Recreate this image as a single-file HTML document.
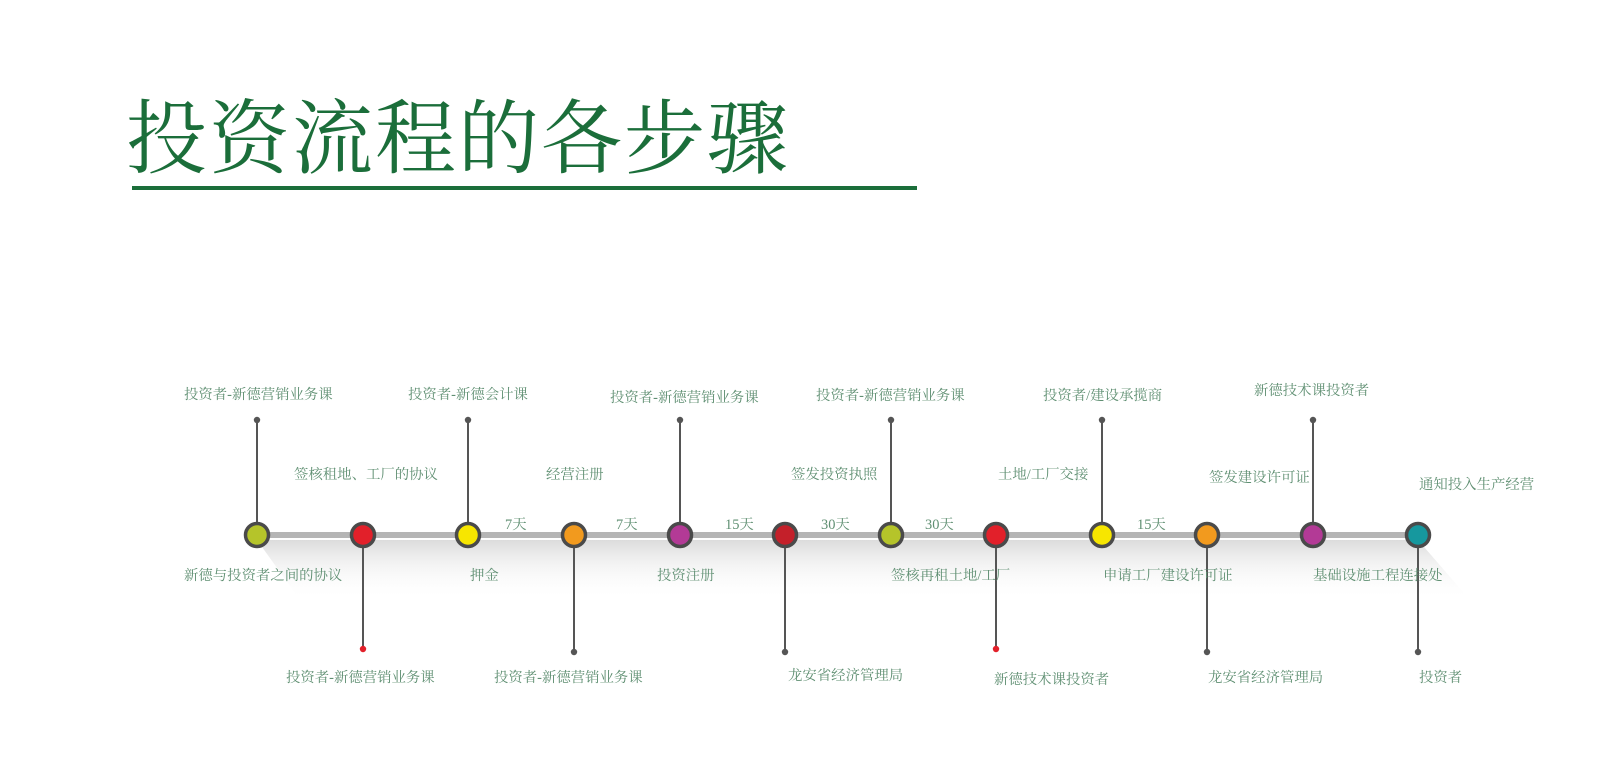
<!DOCTYPE html>
<html><head><meta charset="utf-8"><style>
html,body{margin:0;padding:0;background:#fff;}
svg{display:block}
text{font-family:"Liberation Serif","Noto Serif CJK SC",serif;fill:#5f8f72;font-size:14.4px}
.t{font-size:81px;fill:#1b6e3a;letter-spacing:2px}
</style></head><body>
<svg width="1600" height="757" viewBox="0 0 1600 757" xmlns="http://www.w3.org/2000/svg">
<defs>
<linearGradient id="sh" x1="0" y1="0" x2="0" y2="1">
<stop offset="0" stop-color="#d8d8d8" stop-opacity="0.9"/>
<stop offset="1" stop-color="#ffffff" stop-opacity="0"/>
</linearGradient>
</defs>
<text class="t" x="126" y="167">投资流程的各步骤</text>
<rect x="132" y="186" width="785" height="4" fill="#1b6e3a"/>
<polygon points="257,540 1418,540 1470,600 300,600" fill="url(#sh)"/>
<rect x="257" y="532" width="1161" height="6" fill="#b5b5b5"/>
<g stroke="#555" stroke-width="2">
<line x1="257" y1="420" x2="257" y2="534"/>
<line x1="468" y1="420" x2="468" y2="534"/>
<line x1="680" y1="420" x2="680" y2="534"/>
<line x1="891" y1="420" x2="891" y2="534"/>
<line x1="1102" y1="420" x2="1102" y2="534"/>
<line x1="1313" y1="420" x2="1313" y2="534"/>
<line x1="363" y1="534" x2="363" y2="649"/>
<line x1="574" y1="534" x2="574" y2="652"/>
<line x1="785" y1="534" x2="785" y2="652"/>
<line x1="996" y1="534" x2="996" y2="649"/>
<line x1="1207" y1="534" x2="1207" y2="652"/>
<line x1="1418" y1="534" x2="1418" y2="652"/>
</g>
<g fill="#555">
<circle cx="257" cy="420" r="3.2"/><circle cx="468" cy="420" r="3.2"/><circle cx="680" cy="420" r="3.2"/>
<circle cx="891" cy="420" r="3.2"/><circle cx="1102" cy="420" r="3.2"/><circle cx="1313" cy="420" r="3.2"/>
<circle cx="574" cy="652" r="3.2"/><circle cx="785" cy="652" r="3.2"/><circle cx="1207" cy="652" r="3.2"/><circle cx="1418" cy="652" r="3.2"/>
</g>
<circle cx="363" cy="649" r="3.2" fill="#e2202a"/><circle cx="996" cy="649" r="3.2" fill="#e2202a"/>
<g stroke="#4a4a4a" stroke-width="3.5">
<circle cx="257" cy="535" r="11.5" fill="#b5c42a"/>
<circle cx="363" cy="535" r="11.5" fill="#e2202a"/>
<circle cx="468" cy="535" r="11.5" fill="#f7e600"/>
<circle cx="574" cy="535" r="11.5" fill="#f29a1e"/>
<circle cx="680" cy="535" r="11.5" fill="#b33a96"/>
<circle cx="785" cy="535" r="11.5" fill="#c4202a"/>
<circle cx="891" cy="535" r="11.5" fill="#b5c42a"/>
<circle cx="996" cy="535" r="11.5" fill="#e2202a"/>
<circle cx="1102" cy="535" r="11.5" fill="#f7e600"/>
<circle cx="1207" cy="535" r="11.5" fill="#f29a1e"/>
<circle cx="1313" cy="535" r="11.5" fill="#b33a96"/>
<circle cx="1418" cy="535" r="11.5" fill="#16989e"/>
</g>
<!-- top labels -->
<text x="184" y="399">投资者-新德营销业务课</text>
<text x="408" y="399">投资者-新德会计课</text>
<text x="610" y="402">投资者-新德营销业务课</text>
<text x="816" y="400">投资者-新德营销业务课</text>
<text x="1043" y="400">投资者/建设承揽商</text>
<text x="1254" y="395">新德技术课投资者</text>
<!-- middle labels -->
<text x="294" y="479">签核租地、工厂的协议</text>
<text x="546" y="479">经营注册</text>
<text x="791" y="479">签发投资执照</text>
<text x="998" y="479">土地/工厂交接</text>
<text x="1209" y="482">签发建设许可证</text>
<text x="1419" y="489">通知投入生产经营</text>
<!-- day labels -->
<text x="505" y="529">7天</text>
<text x="616" y="529">7天</text>
<text x="725" y="529">15天</text>
<text x="821" y="529">30天</text>
<text x="925" y="529">30天</text>
<text x="1137" y="529">15天</text>
<!-- bottom labels -->
<text x="184" y="580">新德与投资者之间的协议</text>
<text x="470" y="580">押金</text>
<text x="657" y="580">投资注册</text>
<text x="891" y="580">签核再租土地/工厂</text>
<text x="1103" y="580">申请工厂建设许可证</text>
<text x="1313" y="580">基础设施工程连接处</text>
<!-- lower labels -->
<text x="286" y="682">投资者-新德营销业务课</text>
<text x="494" y="682">投资者-新德营销业务课</text>
<text x="788" y="680">龙安省经济管理局</text>
<text x="994" y="684">新德技术课投资者</text>
<text x="1208" y="682">龙安省经济管理局</text>
<text x="1419" y="682">投资者</text>
</svg>
</body></html>
